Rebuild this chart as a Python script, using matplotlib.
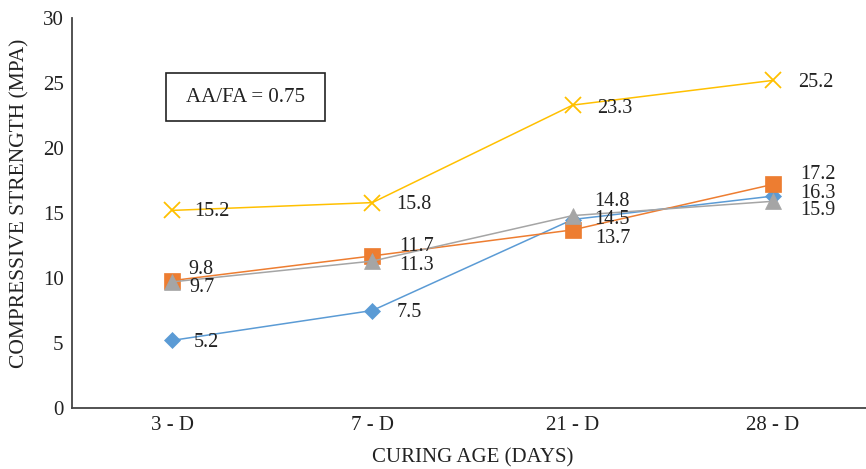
import matplotlib.pyplot as plt
from matplotlib.patches import Rectangle

plt.rcParams['font.family'] = ['Liberation Serif', 'DejaVu Serif']

ages = ['3 - D', '7 - D', '21 - D', '28 - D']
blue_vals = [5.2, 7.5, 14.5, 16.3]
orange_vals = [9.8, 11.7, 13.7, 17.2]
grey_vals = [9.7, 11.3, 14.8, 15.9]
yellow_vals = [15.2, 15.8, 23.3, 25.2]

# label offsets in pixels so the stacked labels don't overlap
series = [
    (blue_vals, '#5B9BD5', 'D', 8, [(22, -2), (24, -2), (22, 0), (27, 3)]),
    (orange_vals, '#ED7D31', 's', 11, [(16, 11), (27, 9), (23, -9), (27, 10)]),
    (grey_vals, '#A5A5A5', '^', 11, [(17, -6), (27, -4), (22, 14), (27, -9)]),
    (yellow_vals, '#FFC000', 'x', 11, [(22, -1), (24, -2), (25, -3), (25, -2)]),
]

fs = 15

fig = plt.figure(figsize=(8.66, 4.69), dpi=100)
ax = fig.add_axes([72 / 866, 61 / 469, 801 / 866, 390 / 469])
x = range(len(ages))

for vals, color, marker, ms, offsets in series:
    ax.plot(x, vals, color=color, lw=1.1, marker=marker, markersize=ms,
            markeredgewidth=1.3 if marker == 'x' else 0.5, markeredgecolor=color)
    for xi, v, (dx, dy) in zip(x, vals, offsets):
        ax.annotate(f'{v}', (xi, v), xytext=(dx, dy), textcoords='offset pixels',
                    ha='left', va='center', fontsize=14.5, color='#222222')

ax.set_xlim(-0.5, 3.5)
ax.set_ylim(0, 30)
ax.set_xticks(list(x))
ax.set_xticklabels(ages)
ax.set_yticks(range(0, 31, 5))
ax.tick_params(axis='both', length=0, labelsize=fs, colors='#222222', pad=6)
for side in ['top', 'right']:
    ax.spines[side].set_visible(False)
for side in ['left', 'bottom']:
    ax.spines[side].set_color('#444444')
    ax.spines[side].set_linewidth(1.3)

ax.set_xlabel('CURING AGE (DAYS)', fontsize=fs, color='#222222', labelpad=9)
ax.set_ylabel('COMPRESSIVE STRENGTH (MPA)', fontsize=15.5, color='#222222')
ax.yaxis.set_label_coords(-0.053, 0.526)

# ratio annotation box
fig.patches.append(Rectangle((166 / 866, 1 - 121 / 469), 159 / 866, 48 / 469,
                             transform=fig.transFigure, fill=False,
                             edgecolor='#222222', lw=1.2))
fig.text(245 / 866, 1 - 97 / 469, 'AA/FA = 0.75', ha='center', va='center',
         fontsize=fs, color='#222222')

fig.savefig('out.png', dpi=100)
